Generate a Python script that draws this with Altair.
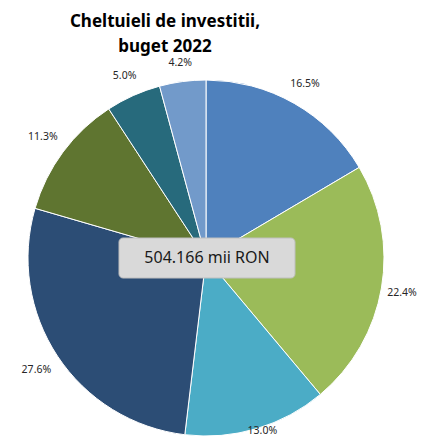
import altair as alt
import pandas as pd

labels = ["16.5%", "22.4%", "13.0%", "27.6%", "11.3%", "5.0%", "4.2%"]
values = [16.5, 22.4, 13.0, 27.6, 11.3, 5.0, 4.2]
colors = ["#4F81BD", "#9BBB59", "#4BACC6", "#2C4D75", "#5F7530", "#276A7C", "#729ACA"]
title_lines = ["Cheltuieli de investitii,", "buget 2022"]
total_label = "504.166 mii RON"

df = pd.DataFrame({"label": labels, "value": values, "order": list(range(len(values)))})

CX, CY = 198, 250
R = 178

arcs = alt.Chart(df).mark_arc(outerRadius=R, stroke="white", strokeWidth=1).encode(
    theta=alt.Theta("value:Q", stack=True),
    order=alt.Order("order:Q"),
    color=alt.Color("label:N", scale=alt.Scale(domain=labels, range=colors), legend=None),
    x=alt.value(CX),
    y=alt.value(CY),
)

texts = (
    alt.Chart(df)
    .transform_window(cum="sum(value)", sort=[alt.SortField("order")])
    .transform_joinaggregate(total="sum(value)")
    .transform_calculate(mid="(datum.cum - datum.value / 2) / datum.total * 2 * PI")
    .transform_calculate(r="195 + 10 * abs(sin(datum.mid))")
    .transform_calculate(
        lx=f"min(394, {CX} + datum.r * sin(datum.mid))",
        ly=f"min(423, {CY} - datum.r * cos(datum.mid))",
    )
    .mark_text(fontSize=10.5, font="Noto Sans", color="#262626", baseline="middle", align="center")
    .encode(
        x=alt.X("lx:Q", scale=None, axis=None),
        y=alt.Y("ly:Q", scale=None, axis=None),
        text="label:N",
    )
)

box_df = pd.DataFrame({"t": [total_label]})
box = alt.Chart(box_df).mark_rect(
    fill="#D9D9D9", stroke="#BFBFBF", strokeWidth=1, cornerRadius=4
).encode(x=alt.value(111), x2=alt.value(287), y=alt.value(230), y2=alt.value(270))
box_text = alt.Chart(box_df).mark_text(
    fontSize=16, font="Noto Sans", color="#1a1a1a", baseline="middle", align="center"
).encode(x=alt.value(199), y=alt.value(250), text="t:N")

t_df = pd.DataFrame({"t": title_lines, "i": [0, 1]})
title = alt.Chart(t_df).mark_text(
    fontSize=17, font="Noto Sans", fontWeight="bold", color="#000000", baseline="middle", align="center"
).encode(
    x=alt.value(157),
    y=alt.Y("i:Q", scale=alt.Scale(domain=[0, 1], range=[14, 39]), axis=None),
    text="t:N",
)

chart = alt.layer(arcs, texts, box, box_text, title).properties(
    width=411, height=430, autosize=alt.AutoSizeParams(type="none"), padding=0
).configure_view(stroke=None)

chart.save("out.html", embed_options={"renderer": "svg", "actions": False})
